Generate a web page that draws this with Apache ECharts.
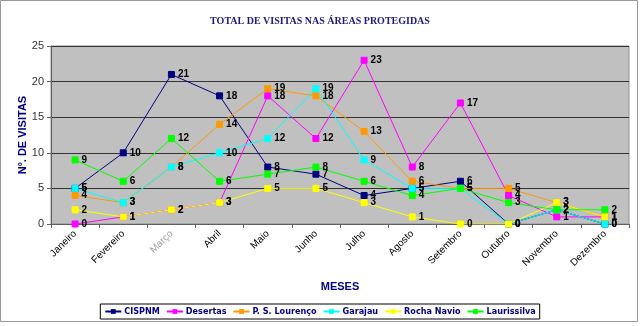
<!DOCTYPE html>
<html><head><meta charset="utf-8">
<script src="https://cdn.jsdelivr.net/npm/echarts@6/dist/echarts.min.js"></script>
<style>html,body{margin:0;padding:0;background:#fff}#c{width:640px;height:326px}</style>
</head><body><div id="c"></div>
<script>
var months = ['Janeiro','Fevereiro','Março','Abril','Maio','Junho','Julho','Agosto','Setembro','Outubro','Novembro','Dezembro'];
var cispnm     = [5,10,21,18,8,7,4,5,6,0,2,0];
var desertas   = [0,1,2,3,18,12,23,8,17,4,1,1];
var psLourenco = [4,3,8,14,19,18,13,6,5,5,3,1];
var garajau    = [5,3,8,10,12,19,9,5,5,0,2,0];
var rochaNavio = [2,1,2,3,5,5,3,1,0,0,3,1];
var laurissilva= [9,6,12,6,7,8,6,4,5,3,2,2];
var yTicks = [0,5,10,15,20,25];

var names = ['CISPNM','Desertas','P. S. Lourenço','Garajau','Rocha Navio','Laurissilva'];
var datas = [cispnm, desertas, psLourenco, garajau, rochaNavio, laurissilva];
var colors = ['#000080','#FF00FF','#FF9900','#00FFFF','#FFFF00','#00FF00'];

var chart = echarts.init(document.getElementById('c'));
var series = names.map(function(n,i){
  return {
    name:n, type:'line', data:datas[i], symbol:'rect', symbolSize:6,
    itemStyle:{color:colors[i], borderColor:colors[i]},
    lineStyle:{color:colors[i], width:1},
    label:{show:true, position:'right', distance:3, color:'#000', fontSize:10, fontWeight:'bold', fontFamily:'Liberation Sans'},
    emphasis:{disabled:true}, animation:false
  };
});
var monthData = months.map(function(m){
  return m === 'Março' ? {value:m, textStyle:{color:'#a0a0a0'}} : m;
});
chart.setOption({
  animation:false,
  color:colors,
  title:{text:'TOTAL DE VISITAS NAS ÁREAS PROTEGIDAS', left:'center', top:11,
    textStyle:{fontFamily:'Liberation Serif', fontWeight:'bold', fontSize:10, color:'#1a1a80'}},
  grid:{left:51, right:11, top:46, bottom:102, show:true, backgroundColor:'#C0C0C0', borderColor:'#909090', borderWidth:1},
  legend:{bottom:7, left:'center', itemWidth:16, itemHeight:6, itemGap:6,
    padding:[3,4,3,4], borderColor:'#000', borderWidth:1,
    textStyle:{fontFamily:"'DejaVu Sans Condensed', 'Liberation Sans'", fontWeight:'bold', fontSize:9, color:'#000080', padding:[0,0,0,-2]},
    data:names},
  xAxis:{type:'category', data:monthData, boundaryGap:true,
    name:'MESES', nameLocation:'middle', nameGap:57, nameMoveOverlap:false,
    nameTextStyle:{fontFamily:'Liberation Sans', fontWeight:'bold', fontSize:11, color:'#000080'},
    axisLine:{lineStyle:{color:'#606060'}},
    axisTick:{show:true, length:4, lineStyle:{color:'#606060'}},
    axisLabel:{rotate:45, fontSize:10, color:'#000', fontFamily:'Liberation Sans', margin:8, interval:0}},
  yAxis:{type:'value', min:0, max:25, interval:5,
    name:'Nº. DE VISITAS', nameLocation:'middle', nameGap:23, nameMoveOverlap:false,
    nameTextStyle:{fontFamily:'Liberation Sans', fontWeight:'bold', fontSize:11, color:'#000080'},
    axisLine:{show:true, lineStyle:{color:'#606060'}},
    axisTick:{show:true, length:4, lineStyle:{color:'#606060'}},
    axisLabel:{fontSize:11, color:'#333', fontFamily:'Liberation Sans', margin:7,
      formatter:function(v){return yTicks.indexOf(v)>=0?String(v):'';}},
    splitLine:{show:true, lineStyle:{color:'#333', width:1}}},
  graphic:[{type:'rect', shape:{x:0.5,y:0.5,width:637,height:321}, style:{fill:'none', stroke:'#999', lineWidth:1}, silent:true}],
  series:series
});
</script></body></html>
